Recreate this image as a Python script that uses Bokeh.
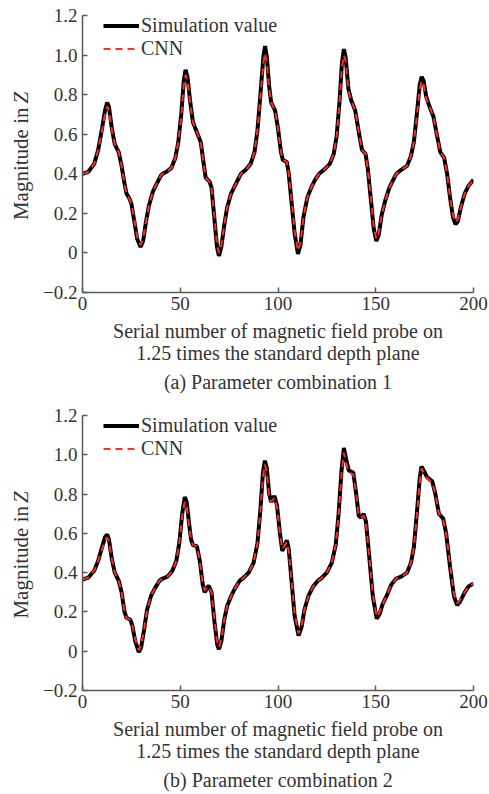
import math
from bokeh.plotting import figure
from bokeh.layouts import column, row
from bokeh.models import Legend, LegendItem, FixedTicker, Title, Label, Range1d
from bokeh.embed import file_html
from bokeh.resources import INLINE

# ---------------- data ----------------
x_ticks = [0, 50, 100, 150, 200]
y_ticks = [-0.2, 0.0, 0.2, 0.4, 0.6, 0.8, 1.0, 1.2]
y_tick_labels = ["\u22120.2", "0", "0.2", "0.4", "0.6", "0.8", "1.0", "1.2"]

# Parameter combination 1
x1 = [0, 3, 6, 8, 10, 11.5, 12.6, 13.5, 15, 16.5, 18.5, 20, 21.5, 22.5, 24, 25, 26.5, 28, 29.7, 31,
      32.5, 34, 36, 38, 40, 41, 43, 45.5, 47.5, 49, 50.5, 51.8, 52.7, 53.7, 55, 56.5, 58.5, 60.5, 62, 63,
      65, 66, 67.5, 68.8, 69.8, 71, 72.5, 74, 76, 78, 80, 81, 83.5, 86, 88, 89.5, 91, 92.5, 93.4, 94.3,
      95.5, 96.5, 98.5, 100, 101.5, 102.5, 104.5, 105.5, 107, 108.5, 110.2, 111.5, 113, 115, 117, 119, 121, 123.5, 126.5, 128.5,
      130, 131.5, 132.7, 133.7, 134.6, 136, 137.5, 139.5, 141.5, 143, 144.8, 146, 147.5, 149, 150.3, 151.5, 153, 155, 157, 159,
      160.5, 163, 166, 168, 169.5, 171, 172.5, 173.5, 174.5, 175.8, 177.5, 179.5, 181, 183, 185, 186.5, 188, 189.5, 190.8, 192,
      193.5, 195.5, 197.5, 200]
sim1 = [0.40, 0.41, 0.45, 0.52, 0.63, 0.72, 0.76, 0.74, 0.63, 0.55, 0.51, 0.44, 0.35, 0.30, 0.275, 0.25, 0.16, 0.07, 0.03, 0.06,
        0.16, 0.24, 0.31, 0.35, 0.39, 0.40, 0.41, 0.43, 0.48, 0.56, 0.70, 0.87, 0.925, 0.89, 0.77, 0.66, 0.61, 0.56, 0.45, 0.38,
        0.36, 0.33, 0.17, 0.03, -0.015, 0.03, 0.14, 0.23, 0.30, 0.34, 0.38, 0.40, 0.42, 0.45, 0.51, 0.62, 0.80, 0.99, 1.045, 0.99,
        0.84, 0.76, 0.72, 0.63, 0.51, 0.47, 0.46, 0.40, 0.25, 0.10, -0.005, 0.04, 0.18, 0.28, 0.33, 0.37, 0.40, 0.42, 0.45, 0.50,
        0.59, 0.77, 0.96, 1.03, 0.99, 0.83, 0.77, 0.72, 0.60, 0.52, 0.50, 0.42, 0.27, 0.12, 0.06, 0.09, 0.19, 0.27, 0.33, 0.37,
        0.40, 0.42, 0.44, 0.49, 0.56, 0.70, 0.85, 0.89, 0.87, 0.79, 0.74, 0.69, 0.61, 0.51, 0.48, 0.40, 0.28, 0.18, 0.145, 0.16,
        0.23, 0.30, 0.34, 0.37]
cnn1 = [0.40, 0.41, 0.45, 0.52, 0.62, 0.70, 0.74, 0.72, 0.62, 0.55, 0.51, 0.44, 0.35, 0.30, 0.275, 0.25, 0.17, 0.08, 0.04, 0.07,
        0.16, 0.24, 0.31, 0.35, 0.39, 0.40, 0.41, 0.43, 0.48, 0.56, 0.69, 0.85, 0.90, 0.87, 0.76, 0.66, 0.61, 0.56, 0.45, 0.38,
        0.36, 0.33, 0.18, 0.04, 0.0, 0.04, 0.14, 0.23, 0.30, 0.34, 0.38, 0.40, 0.42, 0.45, 0.51, 0.62, 0.79, 0.96, 1.01, 0.96,
        0.83, 0.76, 0.72, 0.63, 0.51, 0.47, 0.46, 0.40, 0.26, 0.11, 0.01, 0.05, 0.18, 0.28, 0.33, 0.37, 0.40, 0.42, 0.45, 0.50,
        0.59, 0.76, 0.94, 1.00, 0.97, 0.82, 0.77, 0.72, 0.60, 0.52, 0.50, 0.42, 0.28, 0.13, 0.07, 0.10, 0.19, 0.27, 0.33, 0.37,
        0.40, 0.42, 0.44, 0.49, 0.56, 0.69, 0.83, 0.87, 0.85, 0.78, 0.74, 0.69, 0.61, 0.51, 0.48, 0.40, 0.28, 0.19, 0.155, 0.17,
        0.23, 0.30, 0.34, 0.37]

# Parameter combination 2
x2 = [0, 3, 6, 8, 10, 11.5, 12.6, 13.5, 15, 16.5, 18.5, 20, 21.5, 22.5, 24.5, 25.5, 27, 28.8, 30, 31.5,
      33, 35, 37, 39.5, 41, 43.5, 46, 48, 49.5, 51, 52.3, 53.3, 54.5, 55.5, 56.5, 58.5, 60, 61.5, 62.5, 64.5,
      66, 67.5, 69, 69.8, 71, 72.5, 74, 76, 78, 80.5, 82, 85, 87.5, 89.5, 91, 92.3, 93.3, 94.3, 95.5, 96.5,
      98.2, 99.5, 101, 102.2, 103.5, 104.5, 105.5, 107, 108.5, 110.5, 112, 113.5, 115.5, 118, 120.5, 122, 125, 127.5, 129.5, 131,
      132.5, 133.7, 134.8, 136.2, 138.5, 140, 141.3, 142.5, 143.8, 145, 146.5, 148.5, 150.5, 152, 153.5, 155.5, 158, 160.5, 163, 166,
      168, 169.5, 171, 172.5, 173.4, 174.5, 176.3, 178.9, 180.5, 182.3, 184.5, 186, 188, 190, 191.6, 193, 195.5, 197.5, 200]
sim2 = [0.365, 0.375, 0.41, 0.46, 0.53, 0.58, 0.595, 0.57, 0.47, 0.40, 0.36, 0.30, 0.20, 0.17, 0.16, 0.13, 0.05, -0.005, 0.02, 0.11,
        0.21, 0.28, 0.32, 0.36, 0.37, 0.38, 0.41, 0.46, 0.55, 0.70, 0.785, 0.76, 0.65, 0.57, 0.54, 0.535, 0.46, 0.34, 0.30, 0.335,
        0.30, 0.15, 0.03, 0.01, 0.05, 0.16, 0.23, 0.28, 0.32, 0.36, 0.37, 0.40, 0.45, 0.55, 0.72, 0.91, 0.97, 0.93, 0.80, 0.76,
        0.79, 0.74, 0.60, 0.51, 0.54, 0.565, 0.52, 0.35, 0.18, 0.08, 0.12, 0.21, 0.28, 0.33, 0.36, 0.37, 0.40, 0.45, 0.54, 0.70,
        0.92, 1.035, 0.98, 0.92, 0.91, 0.80, 0.69, 0.68, 0.70, 0.66, 0.50, 0.28, 0.166, 0.19, 0.24, 0.28, 0.34, 0.37, 0.38, 0.40,
        0.45, 0.53, 0.70, 0.88, 0.94, 0.92, 0.885, 0.865, 0.80, 0.70, 0.675, 0.60, 0.43, 0.28, 0.235, 0.25, 0.30, 0.33, 0.345]
cnn2 = [0.365, 0.375, 0.41, 0.46, 0.52, 0.56, 0.58, 0.56, 0.47, 0.40, 0.36, 0.30, 0.20, 0.17, 0.16, 0.13, 0.06, 0.005, 0.03, 0.11,
        0.21, 0.28, 0.32, 0.36, 0.37, 0.38, 0.41, 0.46, 0.55, 0.69, 0.76, 0.74, 0.64, 0.57, 0.54, 0.535, 0.46, 0.34, 0.31, 0.33,
        0.30, 0.16, 0.04, 0.02, 0.06, 0.16, 0.23, 0.28, 0.32, 0.36, 0.37, 0.40, 0.45, 0.55, 0.71, 0.89, 0.95, 0.91, 0.79, 0.76,
        0.78, 0.73, 0.60, 0.52, 0.54, 0.555, 0.51, 0.35, 0.19, 0.09, 0.13, 0.21, 0.28, 0.33, 0.36, 0.37, 0.40, 0.45, 0.54, 0.69,
        0.90, 1.01, 0.96, 0.91, 0.90, 0.80, 0.69, 0.68, 0.69, 0.65, 0.50, 0.29, 0.175, 0.20, 0.24, 0.28, 0.34, 0.37, 0.38, 0.40,
        0.45, 0.53, 0.69, 0.86, 0.93, 0.91, 0.88, 0.86, 0.80, 0.70, 0.67, 0.60, 0.44, 0.29, 0.245, 0.26, 0.30, 0.33, 0.345]

series_names = ["Simulation value", "CNN"]
captions = ["(a) Parameter combination 1", "(b) Parameter combination 2"]
x_title = "Serial number of magnetic field probe on\n1.25 times the standard depth plane"
y_title_main = "Magnitude in"
y_title_var = "Z"

FONT = "Liberation Serif"
FS_TICK = "19px"
FS = "20px"
FS_Y = "21px"
AXC = "#5a5a5a"
TXC = "#333333"
LAB_W = 34
TOP = 15


def make_ylabel_fig(height, frame_h):
    q = figure(width=LAB_W, height=height, output_backend="svg", toolbar_location=None,
               x_range=Range1d(0, 1), y_range=Range1d(-0.2, 1.2),
               min_border_left=0, min_border_right=0, min_border_top=TOP,
               min_border_bottom=height - TOP - frame_h)
    q.axis.visible = False
    q.grid.visible = False
    q.outline_line_color = None
    q.add_layout(Label(x=20, y=0.166, x_units="screen", y_units="data", text=y_title_main,
                       angle=math.pi / 2, text_align="left", text_baseline="middle",
                       text_font=FONT, text_font_size=FS_Y, text_color=TXC))
    q.add_layout(Label(x=20, y=0.755, x_units="screen", y_units="data", text=y_title_var,
                       angle=math.pi / 2, text_align="left", text_baseline="middle",
                       text_font=FONT, text_font_size=FS_Y, text_font_style="italic",
                       text_color=TXC))
    return q


def make_plot(xs, sim, cnn, caption, height, frame_h):
    p = figure(width=489 - LAB_W, height=height, output_backend="svg", toolbar_location=None,
               x_range=Range1d(0, 200), y_range=Range1d(-0.2, 1.2),
               min_border_left=82 - LAB_W, min_border_right=16, min_border_top=TOP,
               min_border_bottom=height - TOP - frame_h)
    p.outline_line_color = None
    p.grid.visible = False
    p.background_fill_color = "white"
    p.border_fill_color = "white"

    r_sim = p.line(xs, sim, line_color="black", line_width=4)
    r_cnn = p.line(xs, cnn, line_color="#ff2a2a", line_width=2, line_dash="7 5")

    for ax in (p.xaxis[0], p.yaxis[0]):
        ax.axis_line_color = AXC
        ax.axis_line_width = 1.5
        ax.major_tick_line_color = AXC
        ax.major_tick_line_width = 1.5
        ax.major_tick_in = 5
        ax.major_tick_out = 0
        ax.minor_tick_line_color = None
        ax.major_label_text_font = FONT
        ax.major_label_text_font_size = FS_TICK
        ax.major_label_text_color = TXC
        ax.axis_label_text_font = FONT
        ax.axis_label_text_font_size = FS
        ax.axis_label_text_font_style = "normal"
        ax.axis_label_text_color = TXC

    p.xaxis.ticker = FixedTicker(ticks=x_ticks)
    p.xaxis.major_label_standoff = 4
    p.xaxis.axis_label = x_title
    p.xaxis.axis_label_standoff = 7
    p.xaxis.axis_label_text_line_height = 1.0

    p.yaxis.ticker = FixedTicker(ticks=y_ticks)
    p.yaxis.major_label_overrides = {t: l for t, l in zip(y_ticks, y_tick_labels)}
    p.yaxis.major_label_standoff = 5
    p.yaxis.axis_label = None

    leg = Legend(items=[LegendItem(label=series_names[0], renderers=[r_sim]),
                        LegendItem(label=series_names[1], renderers=[r_cnn])],
                 location=(21, frame_h - 45), orientation="vertical")
    leg.border_line_color = None
    leg.background_fill_alpha = 0
    leg.padding = 0
    leg.spacing = 0
    leg.margin = 0
    leg.glyph_width = 36
    leg.glyph_height = 19
    leg.label_height = 19
    leg.label_standoff = 2
    leg.label_text_font = FONT
    leg.label_text_font_size = FS
    leg.label_text_color = TXC
    p.add_layout(leg)

    t = Title(text=caption, align="center", text_font=FONT, text_font_size=FS,
              text_font_style="normal", text_color=TXC, standoff=4)
    p.add_layout(t, "below")
    return p


H1, F1 = 400, 277
H2, F2 = 394, 275
row1 = row(make_ylabel_fig(H1, F1), make_plot(x1, sim1, cnn1, captions[0], H1, F1), spacing=0)
row2 = row(make_ylabel_fig(H2, F2), make_plot(x2, sim2, cnn2, captions[1], H2, F2), spacing=0)
layout = column(row1, row2, spacing=0)

open("out.html", "w").write(file_html(layout, INLINE))
